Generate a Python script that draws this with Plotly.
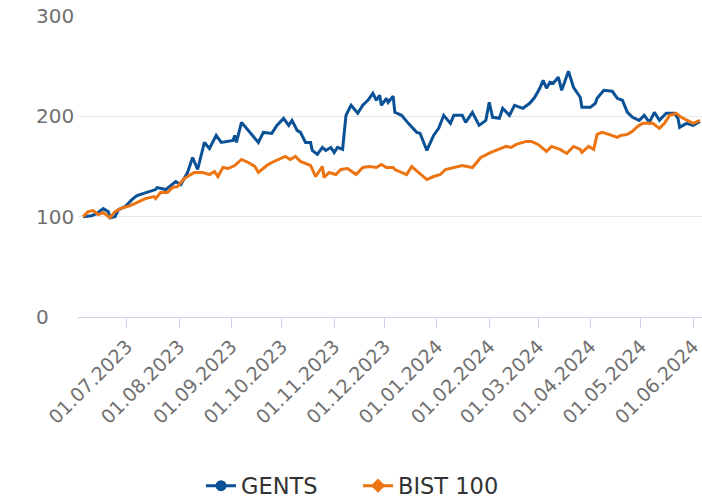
import plotly.graph_objects as go

gents_dates = ["2023-06-05","2023-06-10","2023-06-13","2023-06-17","2023-06-20","2023-06-21","2023-06-24","2023-06-26","2023-06-30",
"2023-07-04","2023-07-07","2023-07-12","2023-07-18","2023-07-19","2023-07-24","2023-07-30","2023-08-02","2023-08-06","2023-08-09",
"2023-08-12","2023-08-16","2023-08-19","2023-08-23","2023-08-26","2023-09-02","2023-09-03","2023-09-04","2023-09-07","2023-09-11",
"2023-09-17","2023-09-20","2023-09-25","2023-09-28","2023-10-02","2023-10-05","2023-10-07","2023-10-10","2023-10-12","2023-10-15",
"2023-10-18","2023-10-19","2023-10-22","2023-10-25","2023-10-27","2023-10-30","2023-11-01","2023-11-03","2023-11-06","2023-11-08",
"2023-11-11","2023-11-15","2023-11-18","2023-11-21","2023-11-24","2023-11-26","2023-11-28","2023-11-29","2023-12-02","2023-12-03",
"2023-12-06","2023-12-07","2023-12-11","2023-12-15","2023-12-20","2023-12-22","2023-12-26","2023-12-30","2024-01-02","2024-01-05",
"2024-01-09","2024-01-11","2024-01-16","2024-01-18","2024-01-22","2024-01-26","2024-01-30","2024-02-01","2024-02-03","2024-02-07",
"2024-02-09","2024-02-13","2024-02-16","2024-02-21","2024-02-25","2024-02-28","2024-03-02","2024-03-04","2024-03-06","2024-03-08",
"2024-03-10","2024-03-13","2024-03-15","2024-03-19","2024-03-22","2024-03-26","2024-03-27","2024-04-01","2024-04-04","2024-04-05",
"2024-04-09","2024-04-14","2024-04-17","2024-04-20","2024-04-23","2024-04-26","2024-04-30","2024-05-03","2024-05-06","2024-05-09",
"2024-05-12","2024-05-16","2024-05-21","2024-05-23","2024-05-24","2024-05-28","2024-06-01","2024-06-05"]
gents_values = [100,101,103,108,105,99,100,107,110,
117,121,124,127,129,127,135,132,144,159,
147,174,168,181,174,176,181,174,194,186,
174,184,183,191,198,191,196,186,184,174,
174,166,162,169,166,169,164,169,167,201,
211,203,211,216,223,216,221,211,218,214,
220,204,201,193,184,183,166,181,188,201,
193,201,201,194,204,191,196,214,199,198,
208,201,211,208,213,219,228,236,228,234,
233,239,226,245,229,219,209,209,213,218,
226,225,218,216,204,199,196,201,194,204,
196,203,203,198,189,193,191,195]

bist_dates = ["2023-06-05","2023-06-08","2023-06-11","2023-06-14","2023-06-17","2023-06-21","2023-06-24","2023-06-27","2023-07-03",
"2023-07-12","2023-07-17","2023-07-18","2023-07-21","2023-07-25","2023-07-28","2023-07-31","2023-08-04","2023-08-10","2023-08-15",
"2023-08-19","2023-08-22","2023-08-24","2023-08-27","2023-08-30","2023-09-03","2023-09-07","2023-09-11","2023-09-15","2023-09-17",
"2023-09-22","2023-09-25","2023-09-29","2023-10-03","2023-10-06","2023-10-09","2023-10-12","2023-10-15","2023-10-18","2023-10-21",
"2023-10-25","2023-10-26","2023-10-29","2023-11-02","2023-11-05","2023-11-09","2023-11-14","2023-11-18","2023-11-22","2023-11-26",
"2023-11-29","2023-12-02","2023-12-06","2023-12-07","2023-12-11","2023-12-14","2023-12-17","2023-12-21","2023-12-26","2023-12-30",
"2024-01-03","2024-01-06","2024-01-11","2024-01-16","2024-01-22","2024-01-27","2024-02-02","2024-02-07","2024-02-11","2024-02-14",
"2024-02-17","2024-02-23","2024-02-26","2024-03-01","2024-03-06","2024-03-09","2024-03-14","2024-03-18","2024-03-22","2024-03-26",
"2024-03-27","2024-03-31","2024-04-03","2024-04-05","2024-04-08","2024-04-12","2024-04-17","2024-04-19","2024-04-23","2024-04-26",
"2024-04-29","2024-05-02","2024-05-08","2024-05-12","2024-05-15","2024-05-18","2024-05-22","2024-05-25","2024-05-29","2024-06-01",
"2024-06-05"]
bist_values = [100,105,106,102,104,99,105,108,111,
118,120,118,124,124,129,130,138,144,144,
142,145,140,149,148,151,157,154,150,144,
151,154,157,160,157,160,155,153,151,140,
150,139,144,142,147,148,142,149,150,149,
152,149,149,147,144,142,150,144,137,140,
142,147,149,151,149,159,164,167,170,169,
172,175,175,172,165,170,167,163,170,167,
164,170,167,182,184,182,179,181,182,185,
190,193,193,188,193,201,203,199,196,193,
196]

tick_dates = ["2023-07-01","2023-08-01","2023-09-01","2023-10-01","2023-11-01","2023-12-01",
              "2024-01-01","2024-02-01","2024-03-01","2024-04-01","2024-05-01","2024-06-01"]
tick_labels = ["01.07.2023","01.08.2023","01.09.2023","01.10.2023","01.11.2023","01.12.2023",
               "01.01.2024","01.02.2024","01.03.2024","01.04.2024","01.05.2024","01.06.2024"]
y_ticks = [0, 100, 200, 300]

series_names = ["GENTS", "BIST 100"]
colors = ["#0a5196", "#ec7411"]
symbols = ["circle", "diamond"]

FONT = "DejaVu Sans"

fig = go.Figure()
for name, xs, ys, c in [(series_names[0], gents_dates, gents_values, colors[0]),
                        (series_names[1], bist_dates, bist_values, colors[1])]:
    fig.add_trace(go.Scatter(x=xs, y=ys, mode="lines", name=name, showlegend=False,
                             line=dict(color=c, width=3), hoverinfo="skip"))
for name, c, s in zip(series_names, colors, symbols):
    fig.add_trace(go.Scatter(x=[None], y=[None], mode="lines+markers", name=name,
                             line=dict(color=c, width=3),
                             marker=dict(color=c, size=11, symbol=s)))

annots = []
for v in y_ticks:
    annots.append(dict(x=-0.0705, y=v, xref="paper", yref="y", text=str(v), showarrow=False,
                       xanchor="left", yanchor="middle",
                       font=dict(family=FONT, size=20, color="#707070")))

fig.update_layout(
    width=702, height=499,
    margin=dict(l=78, r=0, t=16, b=182, autoexpand=False),
    paper_bgcolor="white", plot_bgcolor="white",
    font=dict(family=FONT),
    annotations=annots,
    xaxis=dict(
        range=["2023-06-02", "2024-06-06 06:00"], automargin=False,
        tickvals=tick_dates, ticktext=tick_labels, tickangle=-45,
        ticklabeloverflow="allow",
        tickfont=dict(family=FONT, size=19, color="#707070"),
        showgrid=False, showline=True, linecolor="#ccd6eb", linewidth=1,
        ticks="outside", ticklen=10, tickcolor="#ccd6eb", tickwidth=1,
        zeroline=False,
    ),
    yaxis=dict(
        range=[0, 300], tickvals=y_ticks, showticklabels=False, automargin=False,
        showgrid=True, gridcolor="#e6e6e6", gridwidth=1, zeroline=False,
    ),
    legend=dict(orientation="h", xref="container", yref="container",
                x=0.51, xanchor="center", y=0.026, yanchor="middle",
                font=dict(family=FONT, size=22.5, color="#333333"),
                entrywidth=112, itemsizing="trace"),
    showlegend=True,
)

fig.write_html("out.html", config={"displayModeBar": False, "staticPlot": True},
               post_script="document.body.style.margin='0px';document.body.style.overflow='hidden';")
